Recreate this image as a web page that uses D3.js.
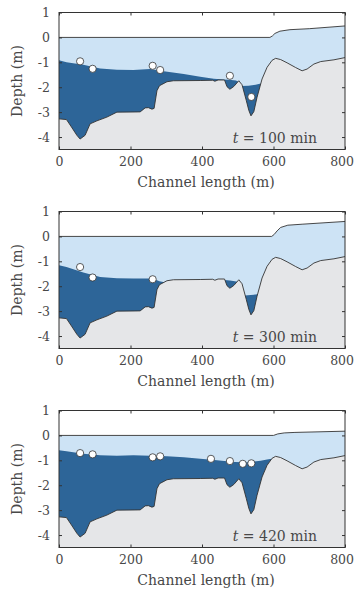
<!DOCTYPE html>
<html>
<head>
<meta charset="utf-8">
<script src="https://cdn.jsdelivr.net/npm/d3@7"></script>
<style>
  body { margin: 0; background: #fff; }
</style>
</head>
<body>
<div class="container"></div>
<script>
// bed profile (same for all panels)
const bedX = [0, 21, 35, 50, 59, 73, 87, 106, 134, 162, 227, 241, 250, 260, 266, 274, 281, 302, 320, 395, 430, 436, 445, 463, 470, 478, 489, 503, 512, 524, 531, 537, 545, 554, 568, 582, 596, 606, 620, 638, 662, 680, 694, 713, 732, 769, 800];
const bedDepth = [-3.27, -3.3, -3.6, -3.93, -4.08, -3.93, -3.47, -3.35, -3.2, -3.0, -2.99, -2.83, -2.82, -2.88, -2.85, -2.14, -1.94, -1.78, -1.74, -1.73, -1.72, -1.76, -1.71, -1.71, -1.98, -2.08, -1.97, -1.74, -1.9, -2.54, -2.93, -3.15, -2.98, -2.4, -1.67, -1.2, -0.92, -0.84, -0.89, -1.02, -1.21, -1.34, -1.27, -1.07, -0.97, -0.9, -0.81];

const times = [100, 300, 420];

// water surface
const surf100X = [0, 590, 597, 604, 618, 646, 700, 800];
const surf100 = [0, 0, 0.06, 0.16, 0.25, 0.31, 0.35, 0.46];
const surf300X = [0, 595, 602, 610, 620, 640, 680, 800];
const surf300 = [0, 0, 0.08, 0.22, 0.36, 0.45, 0.49, 0.6];
const surf420X = [0, 600, 612, 630, 660, 800];
const surf420 = [0, 0, 0.06, 0.1, 0.12, 0.17];

// dense layer top (null = gap)
const layer100X = [0, 21, 68, 115, 162, 208, 255, 283, 349, 395, 433, 460, 475, 495, 505, null, 510, 530, 550, 570, 582];
const layer100 = [-0.92, -1.0, -1.1, -1.25, -1.3, -1.31, -1.27, -1.34, -1.47, -1.58, -1.66, -1.69, -1.7, -1.73, -1.8, null, -1.95, -1.94, -1.9, -1.83, -1.8];
const layer300X = [0, 21, 68, 115, 162, 208, 255, 274, 281, 295, null, 463, 478, 492, 505, null, 520, 545, 575];
const layer300 = [-1.16, -1.23, -1.45, -1.63, -1.68, -1.69, -1.69, -1.76, -1.8, -1.84, null, -1.75, -1.77, -1.8, -1.84, null, -2.37, -2.34, -2.27];
const layer420X = [0, 21, 68, 115, 162, 208, 255, 302, 349, 395, 442, 489, 526, 564, 582, 595, 605];
const layer420 = [-0.6, -0.64, -0.74, -0.8, -0.82, -0.8, -0.82, -0.84, -0.88, -0.94, -1.0, -1.07, -1.08, -1.02, -0.97, -0.94, -0.94];

// sensors
const dots100X = [59, 94, 262, 283, 478, 538];
const dots100 = [-0.96, -1.26, -1.14, -1.31, -1.54, -2.39];
const dots300X = [59, 94, 262];
const dots300 = [-1.23, -1.65, -1.72];
const dots420X = [59, 94, 262, 283, 425, 478, 514, 538];
const dots420 = [-0.71, -0.76, -0.88, -0.84, -0.94, -1.03, -1.14, -1.12];

const xTicks = [0, 200, 400, 600, 800];
const yTicks = [1, 0, -1, -2, -3, -4];

const panels = [
  { t: times[0], sx: surf100X, s: surf100, lx: layer100X, l: layer100, dx: dots100X, d: dots100 },
  { t: times[1], sx: surf300X, s: surf300, lx: layer300X, l: layer300, dx: dots300X, d: dots300 },
  { t: times[2], sx: surf420X, s: surf420, lx: layer420X, l: layer420, dx: dots420X, d: dots420 }
];

const zip = (xs, ys) => xs.map((v, i) => ({ x: v, y: ys[i] }));

const width = 354;
const height = 592;
const left = 59, right = 345, plotH = 137;
const serif = '"DejaVu Serif", serif';
const ink = "#484848";

const svg = d3.select(".container").append("svg")
  .attr("width", width)
  .attr("height", height)
  .attr("font-family", serif);

const x = d3.scaleLinear().domain([0, 800]).range([left, right]);

panels.forEach((p, i) => {
  const top = 12.5 + i * 199;
  const bottom = top + plotH;
  const y = d3.scaleLinear().domain([-4.5, 1]).range([bottom, top]);
  const g = svg.append("g");

  g.append("clipPath").attr("id", "clip" + i)
    .append("rect").attr("x", left).attr("y", top).attr("width", right - left).attr("height", plotH);
  const plot = g.append("g").attr("clip-path", `url(#clip${i})`);

  const area = d3.area()
    .defined(d => d.y != null)
    .x(d => x(d.x))
    .y0(bottom)
    .y1(d => y(d.y));
  const line = d3.line().x(d => x(d.x)).y(d => y(d.y));

  plot.append("path").datum(zip(p.sx, p.s))
    .attr("fill", "rgb(205,227,245)").attr("d", area);
  plot.append("path").datum(zip(p.lx, p.l))
    .attr("fill", "rgb(45,101,152)").attr("d", area);
  plot.append("path").datum(zip(bedX, bedDepth))
    .attr("fill", "rgb(229,230,232)").attr("d", area);

  plot.append("path").datum(zip(p.sx, p.s))
    .attr("fill", "none").attr("stroke", "#333").attr("stroke-width", 0.9).attr("d", line);
  plot.append("path").datum(zip(bedX, bedDepth))
    .attr("fill", "none").attr("stroke", "#333").attr("stroke-width", 0.9).attr("d", line);

  plot.append("g")
    .selectAll("circle")
    .data(zip(p.dx, p.d))
    .enter()
    .append("circle")
    .attr("cx", d => x(d.x))
    .attr("cy", d => y(d.y))
    .attr("r", 3.6)
    .attr("fill", "#fff")
    .attr("stroke", "#333")
    .attr("stroke-width", 0.8);

  // axes, ticks inside on all sides
  const fmt = d => String(d);
  const styleAxis = sel => {
    sel.attr("font-family", serif).attr("font-size", 12.5);
    sel.select(".domain").remove();
    sel.selectAll(".tick line").attr("stroke", "#333");
    sel.selectAll(".tick text").attr("fill", ink);
  };
  const xb = g.append("g").attr("transform", `translate(0,${bottom})`)
    .call(d3.axisBottom(x).tickValues(xTicks).tickFormat(fmt).tickSize(-3).tickPadding(8))
    .call(styleAxis);
  // last label sits against the page edge
  xb.selectAll(".tick text").filter(d => d === 800).attr("text-anchor", "end").attr("x", 8.5);
  g.append("g").attr("transform", `translate(0,${top})`)
    .call(d3.axisTop(x).tickValues(xTicks).tickFormat("").tickSize(-3))
    .call(styleAxis);
  g.append("g").attr("transform", `translate(${left},0)`)
    .call(d3.axisLeft(y).tickValues(yTicks).tickFormat(fmt).tickSize(-3).tickPadding(9))
    .call(styleAxis);
  g.append("g").attr("transform", `translate(${right},0)`)
    .call(d3.axisRight(y).tickValues(yTicks).tickFormat("").tickSize(-3))
    .call(styleAxis);

  g.append("rect")
    .attr("x", left).attr("y", top)
    .attr("width", right - left).attr("height", plotH)
    .attr("fill", "none").attr("stroke", "#333").attr("stroke-width", 1);

  g.append("text")
    .attr("x", (left + right) / 2 + 4)
    .attr("y", bottom + 37.5)
    .attr("text-anchor", "middle")
    .attr("font-size", 14)
    .attr("fill", ink)
    .text("Channel length (m)");

  g.append("text")
    .attr("transform", `translate(22,${(top + bottom) / 2}) rotate(-90)`)
    .attr("text-anchor", "middle")
    .attr("font-size", 14)
    .attr("fill", ink)
    .text("Depth (m)");

  const lab = g.append("text")
    .attr("x", right - 28)
    .attr("y", bottom - 6.5)
    .attr("text-anchor", "end")
    .attr("font-size", 14)
    .attr("fill", ink);
  lab.append("tspan").attr("font-style", "italic").text("t");
  lab.append("tspan").text(` = ${p.t} min`);
});
</script>
</body>
</html>
